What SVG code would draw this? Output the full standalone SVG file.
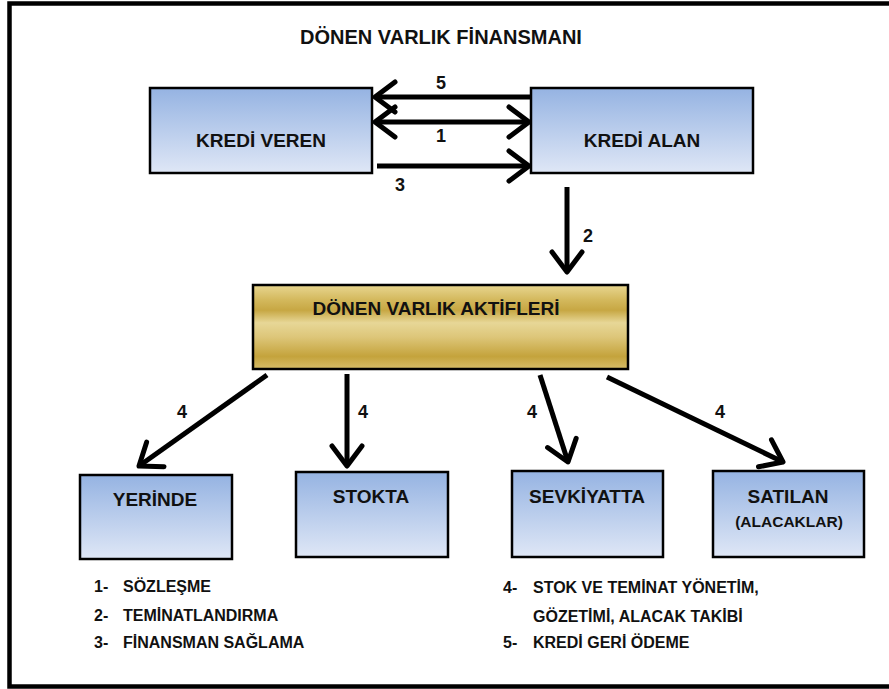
<svg xmlns="http://www.w3.org/2000/svg" width="889" height="689" viewBox="0 0 889 689">
<style>
.lbl{font-family:"Liberation Sans",Arial,sans-serif;font-weight:bold;fill:#111;}
.box{fill:url(#blue);stroke:#000;stroke-width:2.5;}
.gold{fill:url(#gold);stroke:#000;stroke-width:2.5;}
.ar{stroke:#000;stroke-width:5;fill:none;marker-end:url(#head);}
.num{font-size:18px;text-anchor:middle;}
.nodeT{font-size:19px;text-anchor:middle;}
.leg{font-size:16px;}
</style>
<defs>
<linearGradient id="blue" x1="0" y1="0" x2="0" y2="1">
<stop offset="0" stop-color="#95b3e2"/>
<stop offset="1" stop-color="#dfe7f6"/>
</linearGradient>
<linearGradient id="gold" x1="0" y1="0" x2="0" y2="1">
<stop offset="0" stop-color="#e8d690"/>
<stop offset="0.18" stop-color="#d3b85c"/>
<stop offset="0.3" stop-color="#c7a743"/>
<stop offset="0.45" stop-color="#e7d797"/>
<stop offset="0.62" stop-color="#ddc679"/>
<stop offset="0.85" stop-color="#c4a33c"/>
<stop offset="1" stop-color="#d6bd68"/>
</linearGradient>
<marker id="head" markerUnits="userSpaceOnUse" markerWidth="40" markerHeight="40" viewBox="-25 -20 30 40" refX="0" refY="0" orient="auto-start-reverse" overflow="visible">
<path d="M -20 -15 L 0 0 L -20 15" fill="none" stroke="#000" stroke-width="5" stroke-linecap="round" stroke-linejoin="round"/>
</marker>
</defs>
<rect x="0" y="0" width="889" height="689" fill="#fff"/>
<rect x="9.5" y="3.5" width="890" height="683" fill="none" stroke="#000" stroke-width="4.5"/>
<text class="lbl" x="441" y="44" font-size="20" text-anchor="middle">DÖNEN VARLIK FİNANSMANI</text>

<g id="kredi-veren"><rect class="box" x="150" y="88" width="222" height="85"/><text class="lbl nodeT" x="261" y="147">KREDİ VEREN</text></g>
<g id="kredi-alan"><rect class="box" x="531" y="88" width="222" height="85"/><text class="lbl nodeT" x="642" y="147">KREDİ ALAN</text></g>
<g id="donen-varlik-aktifleri"><rect class="gold" x="253" y="285" width="375" height="84"/><text class="lbl nodeT" x="436" y="315">DÖNEN VARLIK AKTİFLERİ</text></g>
<g id="yerinde"><rect class="box" x="80" y="475" width="152" height="84"/><text class="lbl nodeT" x="155" y="506">YERİNDE</text></g>
<g id="stokta"><rect class="box" x="296" y="472" width="152" height="85"/><text class="lbl nodeT" x="371" y="503">STOKTA</text></g>
<g id="sevkiyatta"><rect class="box" x="512" y="471" width="151" height="86"/><text class="lbl nodeT" x="587" y="503">SEVKİYATTA</text></g>
<g id="satilan"><rect class="box" x="713" y="471" width="151" height="86"/><text class="lbl nodeT" x="788" y="503">SATILAN</text><text class="lbl" x="789" y="527" font-size="15.5" text-anchor="middle">(ALACAKLAR)</text></g>

<g id="connectors">
<line class="ar" x1="530" y1="97" x2="375" y2="97"/>
<line class="ar" x1="375" y1="122" x2="529" y2="122" marker-start="url(#head)"/>
<line class="ar" x1="377" y1="166" x2="529" y2="166"/>
<line class="ar" x1="567" y1="187" x2="567" y2="272"/>
<line class="ar" x1="267" y1="375" x2="139" y2="466"/>
<line class="ar" x1="347" y1="374" x2="347" y2="466"/>
<line class="ar" x1="540" y1="375" x2="568" y2="462"/>
<line class="ar" x1="607" y1="377" x2="783" y2="462"/>
<text class="lbl num" x="441" y="89">5</text>
<text class="lbl num" x="441" y="142">1</text>
<text class="lbl num" x="400" y="191">3</text>
<text class="lbl num" x="588" y="242">2</text>
<text class="lbl num" x="182" y="418">4</text>
<text class="lbl num" x="363" y="418">4</text>
<text class="lbl num" x="532" y="418">4</text>
<text class="lbl num" x="720" y="418">4</text>
</g>

<g id="legend">
<text class="lbl leg" x="94" y="592">1-</text><text class="lbl leg" x="123" y="592">SÖZLEŞME</text>
<text class="lbl leg" x="94" y="621">2-</text><text class="lbl leg" x="123" y="621">TEMİNATLANDIRMA</text>
<text class="lbl leg" x="94" y="648">3-</text><text class="lbl leg" x="123" y="648">FİNANSMAN SAĞLAMA</text>
<text class="lbl leg" x="503" y="593">4-</text><text class="lbl leg" x="533" y="593">STOK VE TEMİNAT YÖNETİM,</text>
<text class="lbl leg" x="533" y="622">GÖZETİMİ, ALACAK TAKİBİ</text>
<text class="lbl leg" x="503" y="648">5-</text><text class="lbl leg" x="533" y="648">KREDİ GERİ ÖDEME</text>
</g>
</svg>
